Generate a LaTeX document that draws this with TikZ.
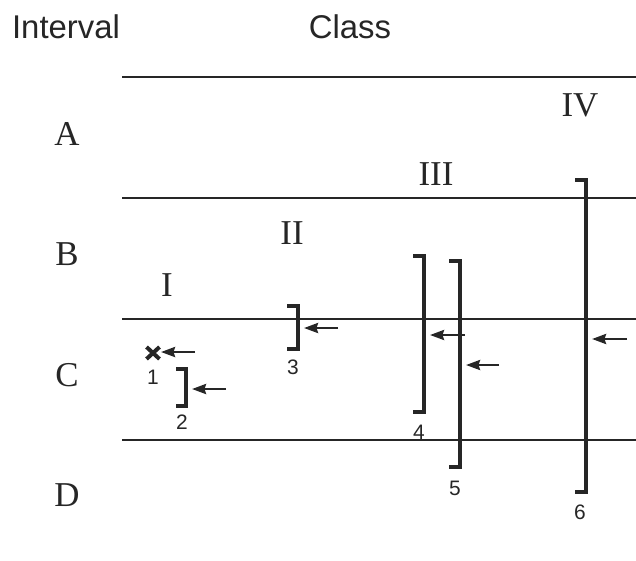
\documentclass[tikz,border=0pt]{standalone}
\usepackage{fontspec}
\setmainfont{Liberation Serif}
\setsansfont{Liberation Sans}
\usetikzlibrary{arrows.meta}
\begin{document}
\begin{tikzpicture}[x=1bp,y=-1bp,
  rule/.style={line width=2.4bp,color=black!85},
  brk/.style={line width=4bp,color=black!85,line cap=butt},
  ptr/.style={line width=2.6bp,color=black!85,-{Triangle[length=14bp,width=10bp,inset=1.5bp]}},
  hd/.style={font=\sffamily\fontsize{33}{33}\selectfont,inner sep=0pt,color=black!85},
  rom/.style={font=\rmfamily\fontsize{35}{35}\selectfont,inner sep=0pt,color=black!85},
  num/.style={font=\sffamily\fontsize{21}{21}\selectfont,inner sep=0pt,color=black!85}]
\useasboundingbox (0,0) rectangle (636,561);
% headers
\node[hd] (interval) at (66,27) {Interval};
\node[hd] (class) at (350,27) {Class};
% horizontal rules
\coordinate (l1a) at (122,77);  \coordinate (l1b) at (636,77);
\coordinate (l2a) at (122,198); \coordinate (l2b) at (636,198);
\coordinate (l3a) at (122,319); \coordinate (l3b) at (636,319);
\coordinate (l4a) at (122,440); \coordinate (l4b) at (636,440);
\draw[rule] (l1a) -- (l1b);
\draw[rule] (l2a) -- (l2b);
\draw[rule] (l3a) -- (l3b);
\draw[rule] (l4a) -- (l4b);
% interval labels
\node[rom] (A) at (67,134) {A};
\node[rom] (B) at (67,254) {B};
\node[rom] (C) at (67,375) {C};
\node[rom] (D) at (67,495) {D};
% class labels
\node[rom] (cI) at (167,285) {I};
\node[rom] (cII) at (292,233) {II};
\node[rom] (cIII) at (436,174) {III};
\node[rom] (cIV) at (580,105) {IV};
% item 1: cross
\coordinate (x1) at (153,353);
\draw[line width=4bp,color=black!85] (146.5,347) -- (159.5,359) (146.5,359) -- (159.5,347);
\coordinate (a1s) at (195,352); \coordinate (a1e) at (161,352);
\draw[ptr] (a1s) -- (a1e);
\node[num] (n1) at (153,377) {1};
% item 2
\draw[brk] (176,369) -- (186,369) -- (186,406) -- (176,406);
\coordinate (a2s) at (226,389); \coordinate (a2e) at (192,389);
\draw[ptr] (a2s) -- (a2e);
\node[num] (n2) at (182,422) {2};
% item 3
\draw[brk] (287,306) -- (298,306) -- (298,349) -- (287,349);
\coordinate (a3s) at (338,328); \coordinate (a3e) at (304,328);
\draw[ptr] (a3s) -- (a3e);
\node[num] (n3) at (293,367) {3};
% item 4
\draw[brk] (413,256) -- (424,256) -- (424,412) -- (413,412);
\coordinate (a4s) at (465,335); \coordinate (a4e) at (430,335);
\draw[ptr] (a4s) -- (a4e);
\node[num] (n4) at (419,432) {4};
% item 5
\draw[brk] (449,261) -- (460,261) -- (460,467) -- (449,467);
\coordinate (a5s) at (499,365); \coordinate (a5e) at (466,365);
\draw[ptr] (a5s) -- (a5e);
\node[num] (n5) at (455,488) {5};
% item 6
\draw[brk] (575,180) -- (586,180) -- (586,492) -- (575,492);
\coordinate (a6s) at (627,339); \coordinate (a6e) at (592,339);
\draw[ptr] (a6s) -- (a6e);
\node[num] (n6) at (580,512) {6};
\end{tikzpicture}
\end{document}
